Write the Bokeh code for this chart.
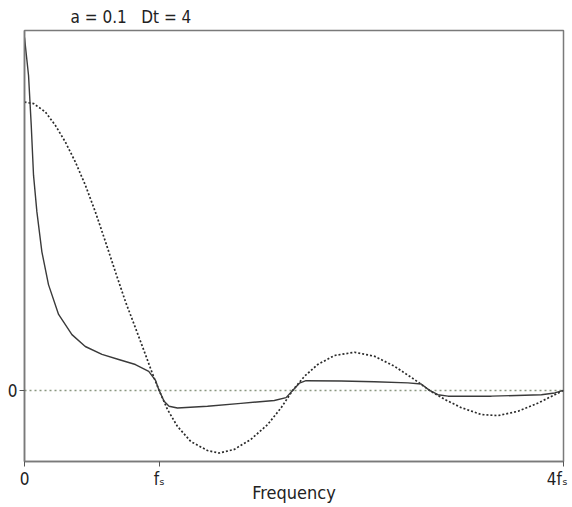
from bokeh.plotting import figure
from bokeh.models import Range1d, Span, FixedTicker
from bokeh.embed import file_html
from bokeh.resources import INLINE

# Frequency axis in units of f_s (0 .. 4 f_s)
x_ticks = [0, 1, 4]
x_tick_labels = ["0", "f\u209b", "4f\u209b\u00a0"]
y_ticks = [0]
y_tick_labels = ["0"]

# solid curve (a = 0.1)
solid_x = [0, 0.03, 0.050, 0.067, 0.092, 0.129, 0.178, 0.253, 0.352, 0.451, 0.575,
           0.699, 0.823, 0.922, 0.972, 0.999, 1.036, 1.073, 1.135, 1.358, 1.606,
           1.854, 1.941, 1.990, 2.040, 2.089, 2.349, 2.597, 2.845, 2.944, 3.006,
           3.068, 3.143, 3.465, 3.836, 3.935, 4.0]
solid_y = [0.98, 0.875, 0.737, 0.598, 0.496, 0.385, 0.294, 0.211, 0.155, 0.122, 0.100,
           0.086, 0.072, 0.053, 0.028, 0.0, -0.030, -0.044, -0.049, -0.044, -0.036,
           -0.028, -0.020, 0.0, 0.020, 0.027, 0.026, 0.024, 0.021, 0.018, 0.0,
           -0.012, -0.016, -0.016, -0.012, -0.007, 0.0]

# dotted curve (Dt = 4)
dot_x = [0, 0.067, 0.154, 0.228, 0.302, 0.377, 0.451, 0.525, 0.600, 0.674, 0.749,
         0.823, 0.897, 0.947, 0.999, 1.061, 1.135, 1.234, 1.358, 1.445, 1.556, 1.680,
         1.804, 1.903, 1.990, 2.077, 2.176, 2.300, 2.449, 2.597, 2.746, 2.895, 3.006,
         3.118, 3.242, 3.390, 3.514, 3.663, 3.812, 3.935, 4.0]
dot_y = [0.801, 0.797, 0.774, 0.737, 0.691, 0.635, 0.571, 0.497, 0.414, 0.330, 0.247,
         0.174, 0.100, 0.049, 0.0, -0.053, -0.100, -0.142, -0.167, -0.174, -0.164, -0.136,
         -0.095, -0.049, 0.0, 0.039, 0.072, 0.097, 0.106, 0.095, 0.067, 0.030, 0.0,
         -0.025, -0.048, -0.067, -0.070, -0.058, -0.035, -0.012, 0.0]

FONT = "'Liberation Sans Narrow', 'DejaVu Sans Condensed', 'Roboto', sans-serif"

p = figure(width=572, height=505, x_range=Range1d(0, 4), y_range=Range1d(-0.1975, 1.0),
           output_backend="svg", toolbar_location=None,
           min_border_left=24, min_border_right=9, min_border_top=29, min_border_bottom=43)
p.background_fill_color = "white"
p.border_fill_color = "white"
p.grid.visible = False
p.outline_line_color = "#7a7a7a"
p.outline_line_width = 1.5

p.title.text = "a = 0.1\u00a0\u00a0 Dt = 4"
p.title.text_font = FONT
p.title.text_font_size = "17px"
p.title.text_font_style = "normal"
p.title.text_color = "#222222"
p.title.align = "left"
p.title.offset = 46
p.title.standoff = 8

for ax in (p.xaxis[0], p.yaxis[0]):
    ax.axis_line_color = "#7a7a7a"
    ax.axis_line_width = 1.5
    ax.major_tick_line_color = "#555555"
    ax.major_tick_line_width = 1
    ax.major_tick_in = 0
    ax.major_tick_out = 5
    ax.minor_tick_line_color = None
    ax.major_label_text_font = FONT
    ax.major_label_text_font_size = "17px"
    ax.major_label_text_color = "#222222"
    ax.major_label_standoff = 2

p.xaxis.ticker = FixedTicker(ticks=x_ticks)
p.xaxis.major_label_overrides = {t: l for t, l in zip(x_ticks, x_tick_labels)}
p.yaxis.ticker = FixedTicker(ticks=y_ticks)
p.yaxis.major_label_overrides = {t: l for t, l in zip(y_ticks, y_tick_labels)}

p.xaxis.axis_label = "Frequency"
p.xaxis.axis_label_text_font = FONT
p.xaxis.axis_label_text_font_size = "18px"
p.xaxis.axis_label_text_font_style = "normal"
p.xaxis.axis_label_text_color = "#222222"
p.xaxis.axis_label_standoff = -10

p.add_layout(Span(location=0, dimension="width", line_color="#8a9680",
                  line_dash="2 3", line_width=1.5, level="underlay"))

p.line(dot_x, dot_y, line_color="#2a2a2a", line_width=1.7, line_dash="2 2")
p.line(solid_x, solid_y, line_color="#3a3a3a", line_width=1.4)

open("out.html", "w").write(file_html(p, INLINE))
